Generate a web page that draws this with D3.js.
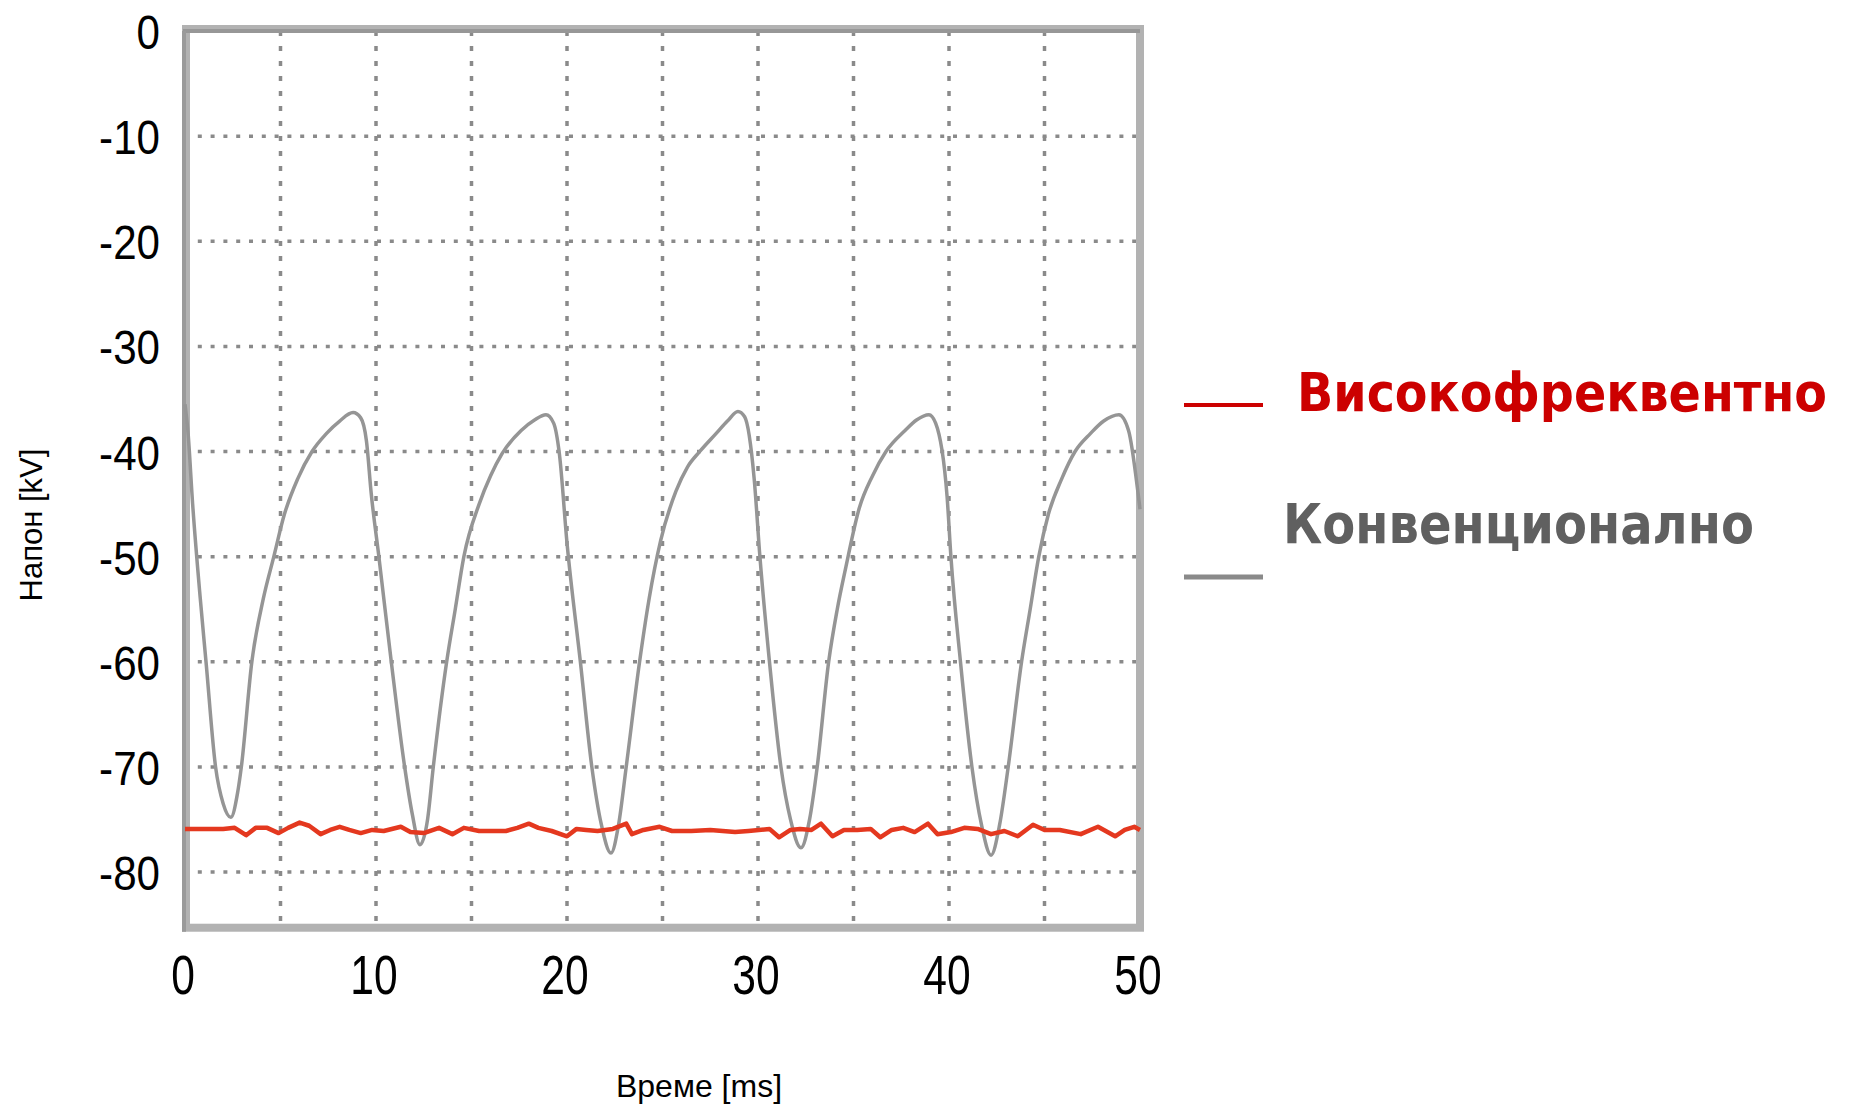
<!DOCTYPE html>
<html>
<head>
<meta charset="utf-8">
<script src="https://cdn.jsdelivr.net/npm/d3@7"></script>
<style>
  html, body { margin: 0; padding: 0; background: #ffffff; }
  svg { display: block; }
</style>
</head>
<body>
<svg id="myGraph" width="1851" height="1107"></svg>
<script>
// 目盛り
var xTicks = [0, 10, 20, 30, 40, 50];
var xGrid = [5, 10, 15, 20, 25, 30, 35, 40, 45];
var yTicks = [0, -10, -20, -30, -40, -50, -60, -70, -80];

// 凡例
var seriesNames = ['Високофреквентно', 'Конвенционално'];

// 従来型 (グレー) 時間 [ms]
var convTime = [0.0, 0.15, 0.4, 0.8, 1.1, 1.6, 2.0, 2.4, 2.75, 2.95, 3.5, 4.1, 4.65, 5.2, 5.9, 6.65, 7.4, 8.1, 8.8,
  9.2, 9.5, 9.75, 10.15, 10.8, 11.5, 11.9, 12.3, 12.7, 13.0, 13.7, 14.15, 14.6, 15.4, 16.0, 16.6, 17.6, 18.3, 18.9,
  19.3, 19.6, 20.0, 20.7, 21.3, 21.8, 22.3, 22.7, 23.1, 23.8, 24.3, 24.9, 25.7, 26.3, 26.95, 27.8, 28.4, 28.95,
  29.3, 29.8, 30.1, 30.6, 31.2, 31.7, 32.25, 32.7, 33.1, 33.7, 34.15, 34.6, 35.3, 36.0, 36.7, 37.7, 38.3, 38.95,
  39.3, 39.9, 40.1, 40.6, 41.2, 41.7, 42.2, 42.65, 43.1, 43.8, 44.25, 44.7, 45.2, 45.9, 46.6, 47.4, 48.1, 48.9,
  49.4, 49.9, 50.0];
// 従来型 (グレー) 電圧 [kV]
var convVolt = [-35.5, -38, -45, -54, -60, -70, -73.5, -74.8, -72.5, -70, -60, -54, -50, -46, -42.6, -40, -38.3, -37.1, -36.3,
  -36.8, -39, -44, -50, -60, -70, -74.5, -77.4, -75, -70, -60, -55, -50, -45, -42.3, -40.2, -38, -37, -36.5,
  -37.3, -40.2, -48.7, -60, -70, -75.5, -78.2, -75.5, -70, -60, -54, -48.5, -43.8, -41.5, -40, -38.3, -37.1, -36.2,
  -36.7, -42.6, -50, -60, -70, -75, -77.7, -75, -70, -60, -55, -51, -45.4, -42.3, -40, -38, -37, -36.5,
  -37.3, -44.3, -50, -60, -70, -75.5, -78.4, -75.5, -70, -60, -55, -50, -46, -42.6, -40, -38.3, -37.1, -36.5,
  -38, -44, -45.5];

// 高周波 (赤) 時間 [ms]
var hfTime = [0, 1.0, 2.0, 2.6, 3.2, 3.7, 4.3, 4.9, 5.4, 6.0, 6.5, 7.1, 7.6, 8.1, 8.6, 9.2, 9.8, 10.4, 11.3, 11.8,
  12.5, 13.3, 14.0, 14.6, 15.4, 16.8, 17.4, 18.0, 18.5, 19.2, 20.0, 20.5, 21.0, 21.6, 22.4, 23.1, 23.4, 24.0,
  24.85, 25.5, 26.5, 27.5, 28.8, 29.5, 30.6, 31.1, 31.7, 32.2, 32.8, 33.3, 33.9, 34.5, 35.2, 35.9, 36.4, 37.0,
  37.6, 38.2, 38.9, 39.4, 40.1, 40.8, 41.5, 42.2, 42.9, 43.6, 44.4, 45.0, 45.8, 46.9, 47.8, 48.7, 49.2, 49.7, 50.0];
// 高周波 (赤) 電圧 [kV]
var hfVolt = [-75.9, -75.9, -75.9, -75.8, -76.5, -75.8, -75.8, -76.3, -75.8, -75.3, -75.6, -76.4, -76.0, -75.7, -76.0, -76.3, -76.0, -76.1, -75.7, -76.2,
  -76.3, -75.8, -76.4, -75.8, -76.1, -76.1, -75.8, -75.4, -75.8, -76.1, -76.6, -75.9, -76.0, -76.1, -75.9, -75.4, -76.4, -76.0,
  -75.7, -76.1, -76.1, -76.0, -76.2, -76.1, -75.9, -76.7, -76.0, -75.9, -76.0, -75.4, -76.6, -76.0, -76.0, -75.9, -76.7, -76.0,
  -75.8, -76.2, -75.4, -76.4, -76.2, -75.8, -75.9, -76.4, -76.1, -76.6, -75.5, -76.0, -76.0, -76.4, -75.7, -76.6, -76.0, -75.7, -76.0];

var svg = d3.select('#myGraph');

// スケール
var xScale = d3.scaleLinear().domain([0, 50]).range([185, 1140]);
var yScale = d3.scaleLinear().domain([0, -80]).range([31, 872]);
var yBottom = -85.3;  // 枠の下端

// グリッド（点線）
svg.append('g')
  .selectAll('line')
  .data(yTicks.slice(1))
  .enter()
  .append('line')
  .attr('x1', xScale(0))
  .attr('x2', xScale(50))
  .attr('y1', function(d) { return yScale(d); })
  .attr('y2', function(d) { return yScale(d); })
  .attr('stroke', '#8a8a8a')
  .attr('stroke-width', 3.5)
  .attr('stroke-dasharray', '4,8.8');

svg.append('g')
  .selectAll('line')
  .data(xGrid)
  .enter()
  .append('line')
  .attr('x1', function(d) { return xScale(d); })
  .attr('x2', function(d) { return xScale(d); })
  .attr('y1', yScale(0))
  .attr('y2', yScale(yBottom))
  .attr('stroke', '#8a8a8a')
  .attr('stroke-width', 3.5)
  .attr('stroke-dasharray', '5,10');

// 枠
svg.append('rect')
  .attr('x', xScale(0) + 1)
  .attr('y', yScale(0) - 2)
  .attr('width', xScale(50) - xScale(0) - 1)
  .attr('height', yScale(yBottom) - yScale(0) + 2)
  .attr('fill', 'none')
  .attr('stroke', '#b2b2b2')
  .attr('stroke-width', 8);
svg.append('line')
  .attr('x1', xScale(0) - 2).attr('x2', xScale(50))
  .attr('y1', yScale(0)).attr('y2', yScale(0))
  .attr('stroke', '#979797').attr('stroke-width', 4);
svg.append('line')
  .attr('x1', xScale(0) - 1).attr('x2', xScale(0) - 1)
  .attr('y1', yScale(0)).attr('y2', yScale(yBottom) + 4)
  .attr('stroke', '#9a9a9a').attr('stroke-width', 4);

// 曲線
var convData = convTime.map(function(t, i) { return [t, convVolt[i]]; });
var hfData = hfTime.map(function(t, i) { return [t, hfVolt[i]]; });

var smoothLine = d3.line()
  .x(function(d) { return xScale(d[0]); })
  .y(function(d) { return yScale(d[1]); })
  .curve(d3.curveMonotoneX);

var jaggedLine = d3.line()
  .x(function(d) { return xScale(d[0]); })
  .y(function(d) { return yScale(d[1]); });

svg.append('path')
  .datum(convData)
  .attr('d', smoothLine)
  .attr('fill', 'none')
  .attr('stroke', '#959595')
  .attr('stroke-width', 3.5)
  .attr('stroke-linejoin', 'round');

svg.append('path')
  .datum(hfData)
  .attr('d', jaggedLine)
  .attr('fill', 'none')
  .attr('stroke', '#e4381f')
  .attr('stroke-width', 4.5)
  .attr('stroke-linejoin', 'round');

// 目盛りラベル
svg.append('g')
  .selectAll('text')
  .data(yTicks)
  .enter()
  .append('text')
  .attr('transform', function(d) { return 'translate(160,' + (yScale(d) + 18) + ') scale(0.86,1)'; })
  .attr('text-anchor', 'end')
  .style('font-family', 'Liberation Sans, Arial, sans-serif')
  .style('font-size', '49px')
  .attr('fill', '#000')
  .text(function(d) { return d; });

svg.append('g')
  .selectAll('text')
  .data(xTicks)
  .enter()
  .append('text')
  .attr('transform', function(d) { return 'translate(' + (xScale(d) - 2) + ',994) scale(0.76,1)'; })
  .attr('text-anchor', 'middle')
  .style('font-family', 'Liberation Sans, Arial, sans-serif')
  .style('font-size', '56px')
  .attr('fill', '#000')
  .text(function(d) { return d; });

// 軸タイトル
svg.append('text')
  .attr('transform', 'translate(42,525) rotate(-90)')
  .attr('text-anchor', 'middle')
  .style('font-family', 'Liberation Sans, Arial, sans-serif')
  .style('font-size', '31px')
  .attr('fill', '#000')
  .text('Напон [kV]');

svg.append('text')
  .attr('x', 699)
  .attr('y', 1097)
  .attr('text-anchor', 'middle')
  .style('font-family', 'Liberation Sans, Arial, sans-serif')
  .style('font-size', '32px')
  .attr('fill', '#000')
  .text('Време [ms]');

// 凡例
svg.append('line')
  .attr('x1', 1184).attr('x2', 1263)
  .attr('y1', 405).attr('y2', 405)
  .attr('stroke', '#cc0000').attr('stroke-width', 4);
svg.append('text')
  .attr('x', 1297)
  .attr('y', 411)
  .attr('textLength', 530)
  .attr('lengthAdjust', 'spacingAndGlyphs')
  .style('font-family', 'DejaVu Sans Condensed, DejaVu Sans, sans-serif')
  .style('font-weight', 'bold')
  .style('font-size', '53px')
  .attr('fill', '#cc0000')
  .text(seriesNames[0]);

svg.append('line')
  .attr('x1', 1184).attr('x2', 1263)
  .attr('y1', 577).attr('y2', 577)
  .attr('stroke', '#8a8a8a').attr('stroke-width', 5);
svg.append('text')
  .attr('x', 1283)
  .attr('y', 543)
  .attr('textLength', 471)
  .attr('lengthAdjust', 'spacingAndGlyphs')
  .style('font-family', 'DejaVu Sans Condensed, DejaVu Sans, sans-serif')
  .style('font-weight', 'bold')
  .style('font-size', '55px')
  .attr('fill', '#606060')
  .text(seriesNames[1]);
</script>
</body>
</html>
